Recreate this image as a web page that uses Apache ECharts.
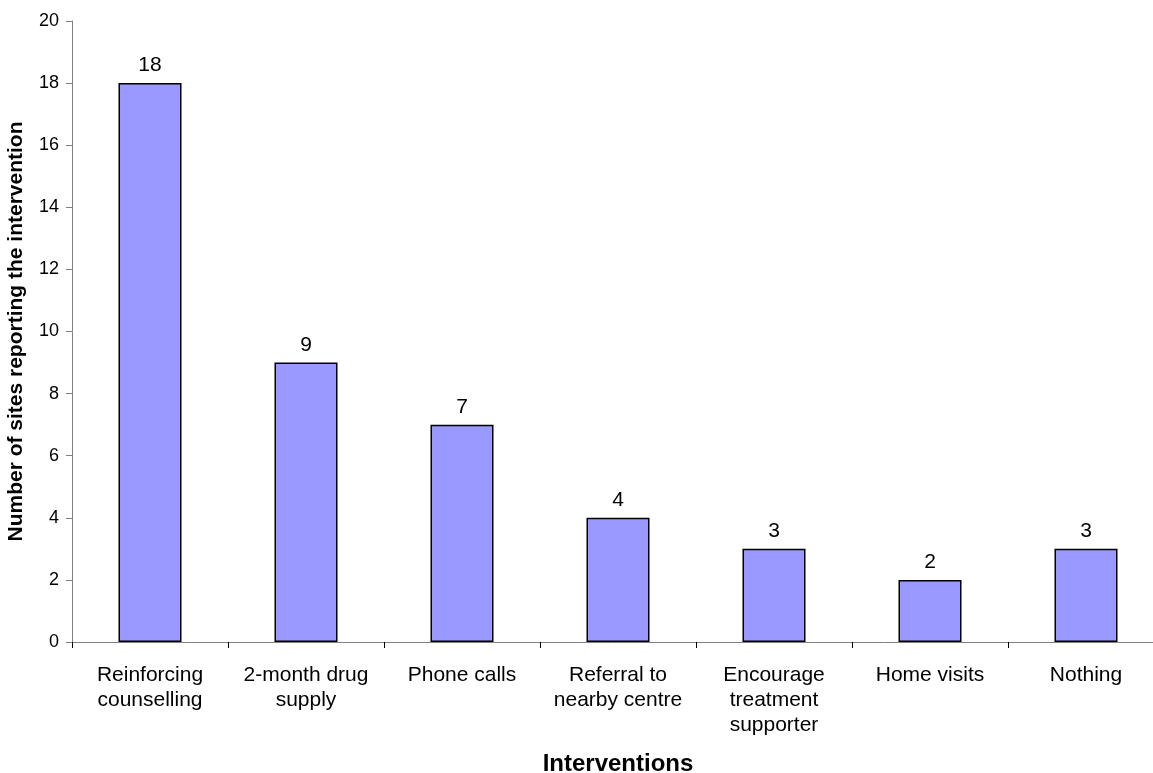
<!DOCTYPE html>
<html>
<head>
<meta charset="utf-8">
<script src="https://cdn.jsdelivr.net/npm/echarts@6/dist/echarts.min.js"></script>
<style>
  html, body { margin: 0; padding: 0; background: #fff; }
  #chart { width: 1153px; height: 773px; }
</style>
</head>
<body>
<div id="chart"></div>
<script>
// Interventions reported by sites and how many sites reported each
const categories = [
  'Reinforcing\ncounselling',
  '2-month drug\nsupply',
  'Phone calls',
  'Referral to\nnearby centre',
  'Encourage\ntreatment\nsupporter',
  'Home visits',
  'Nothing'
];
const siteCounts = [18, 9, 7, 4, 3, 2, 3];
const yTicks = { min: 0, max: 20, interval: 2 };

const font = 'Liberation Sans, Arial, sans-serif';
const chart = echarts.init(document.getElementById('chart'));

chart.setOption({
  animation: false,
  backgroundColor: '#ffffff',
  grid: {
    left: 72, right: -11, top: 21, bottom: 131,
    containLabel: false,
    outerBoundsMode: 'none'
  },
  xAxis: {
    type: 'category',
    data: categories,
    boundaryGap: true,
    name: 'Interventions',
    nameLocation: 'middle',
    nameGap: 110,
    nameTextStyle: { fontFamily: font, fontSize: 24, fontWeight: 'bold', color: '#000' },
    axisLine: { lineStyle: { color: '#808080', width: 1 } },
    axisTick: { show: true, alignWithLabel: false, length: 6, lineStyle: { color: '#000' } },
    axisLabel: {
      interval: 0,
      margin: 21,
      fontFamily: font,
      fontSize: 21,
      lineHeight: 25,
      color: '#000'
    }
  },
  yAxis: {
    type: 'value',
    min: yTicks.min,
    max: yTicks.max,
    interval: yTicks.interval,
    name: 'Number of sites reporting the intervention',
    nameLocation: 'middle',
    nameGap: 45,
    nameRotate: 90,
    nameTextStyle: { fontFamily: font, fontSize: 21, fontWeight: 'bold', color: '#000' },
    axisLine: { show: true, lineStyle: { color: '#808080', width: 1 } },
    axisTick: { show: true, length: 6, lineStyle: { color: '#808080' } },
    axisLabel: { margin: 13, fontFamily: font, fontSize: 18, color: '#000' },
    splitLine: { show: false }
  },
  series: [{
    type: 'bar',
    data: siteCounts,
    barWidth: '40.4%',
    itemStyle: { color: '#9999ff', borderColor: '#000', borderWidth: 1.5 },
    label: {
      show: true,
      position: 'top',
      distance: 7,
      fontFamily: font,
      fontSize: 21,
      color: '#000'
    }
  }]
});
</script>
</body>
</html>
